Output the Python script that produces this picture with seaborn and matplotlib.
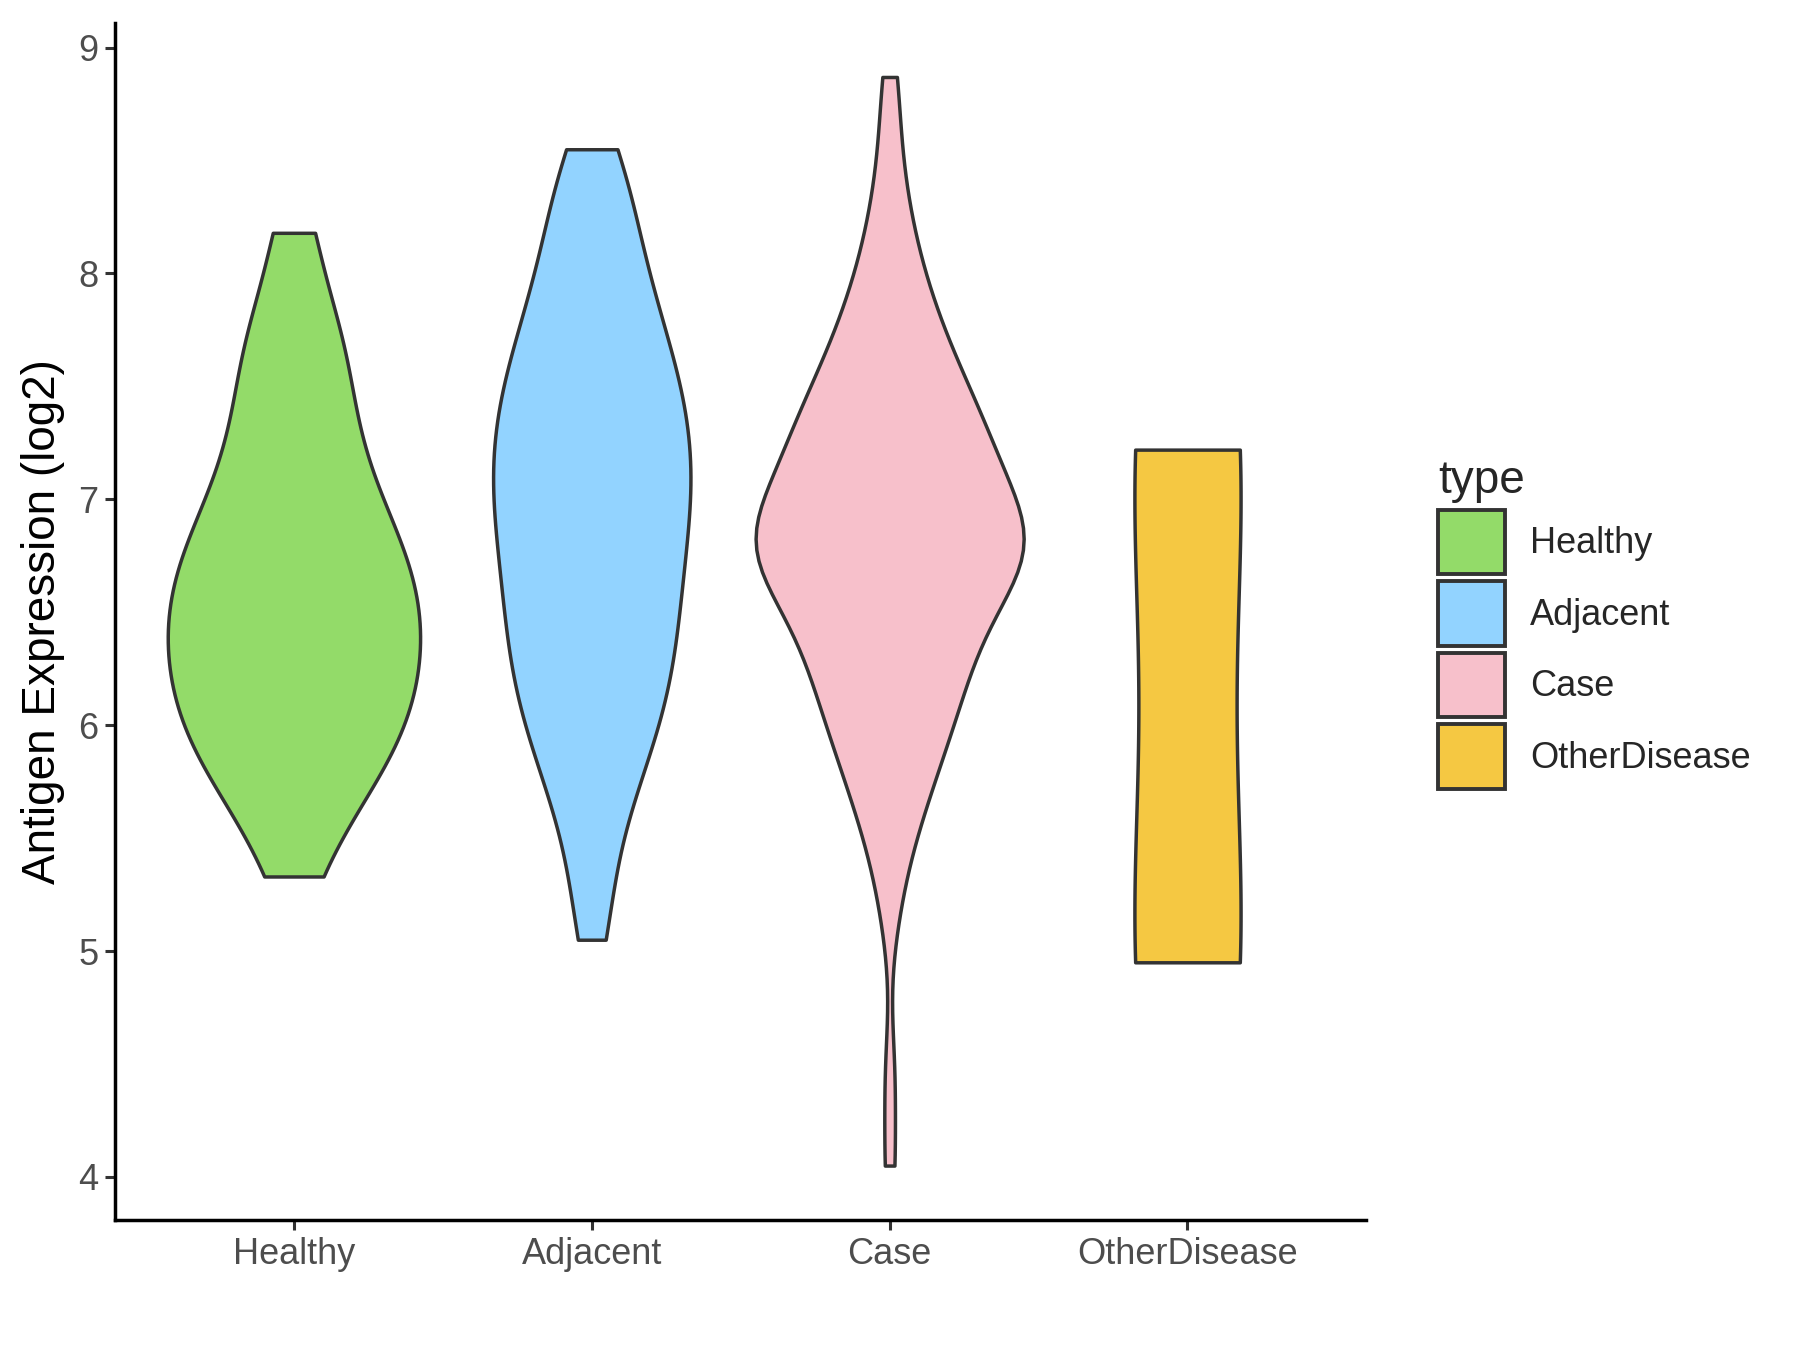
import numpy as np
import pandas as pd
import matplotlib
matplotlib.use("Agg")
import matplotlib.pyplot as plt
from matplotlib.patches import Patch
import seaborn as sns

# groups and fill colours
GROUPS = ["Healthy", "Adjacent", "Case", "OtherDisease"]
COLORS = ["#93DB69", "#92D3FF", "#F7C0CB", "#F5C842"]

# antigen expression (log2) per sample
healthy = [5.33, 5.58, 5.69, 5.78, 5.87, 5.94, 6.01, 6.07, 6.13, 6.20,
           6.26, 6.32, 6.38, 6.44, 6.50, 6.56, 6.62, 6.68, 6.75, 6.82,
           6.89, 6.97, 7.07, 7.18, 7.30, 7.43, 7.57, 7.71, 7.86, 8.18]

adjacent = [5.05, 5.23, 5.43, 5.57, 5.67, 5.76, 5.83, 5.90, 5.96, 6.01,
            6.07, 6.11, 6.16, 6.21, 6.26, 6.30, 6.35, 6.39, 6.44, 6.48,
            6.52, 6.57, 6.61, 6.65, 6.69, 6.74, 6.78, 6.82, 6.86, 6.90,
            6.94, 6.97, 7.01, 7.05, 7.09, 7.12, 7.16, 7.20, 7.23, 7.27,
            7.31, 7.35, 7.39, 7.43, 7.47, 7.51, 7.55, 7.59, 7.64, 7.69,
            7.74, 7.79, 7.85, 7.91, 7.97, 8.04, 8.12, 8.20, 8.28, 8.38,
            8.50, 8.55]

case = [4.05, 4.45, 5.15, 5.35, 5.46, 5.55, 5.62, 5.68, 5.73, 5.78,
        5.83, 5.87, 5.91, 5.95, 5.98, 6.02, 6.05, 6.08, 6.11, 6.14,
        6.17, 6.20, 6.23, 6.26, 6.28, 6.31, 6.34, 6.36, 6.39, 6.41,
        6.44, 6.46, 6.48, 6.50, 6.53, 6.55, 6.57, 6.59, 6.60, 6.62,
        6.64, 6.66, 6.68, 6.70, 6.72, 6.73, 6.75, 6.76, 6.77, 6.79,
        6.79, 6.80, 6.81, 6.82, 6.84, 6.84, 6.86, 6.87, 6.89, 6.91,
        6.93, 6.94, 6.96, 6.98, 7.00, 7.02, 7.04, 7.06, 7.08, 7.10,
        7.11, 7.13, 7.15, 7.17, 7.20, 7.22, 7.24, 7.26, 7.28, 7.30,
        7.32, 7.34, 7.37, 7.39, 7.42, 7.44, 7.47, 7.49, 7.52, 7.55,
        7.58, 7.62, 7.65, 7.69, 7.73, 7.77, 7.81, 7.86, 7.91, 7.97,
        8.04, 8.11, 8.20, 8.31, 8.44, 8.65, 8.87]

other_disease = [4.95, 7.22]

df = pd.concat([
    pd.DataFrame({"type": name, "expr": vals})
    for name, vals in zip(GROUPS, [healthy, adjacent, case, other_disease])
], ignore_index=True)

sns.set_theme(style="ticks")
plt.rcParams["font.family"] = ["Liberation Sans", "DejaVu Sans"]

fig = plt.figure(figsize=(18, 13.5), dpi=100)
ax = fig.add_axes([0.064, 0.0963, 0.695, 0.887])

sns.violinplot(
    data=df, x="type", y="expr", hue="type",
    order=GROUPS, hue_order=GROUPS,
    palette=dict(zip(GROUPS, COLORS)), saturation=1,
    density_norm="area", common_norm=True, cut=0, inner=None,
    width=0.9, linewidth=2.5, linecolor="#333333",
    bw_method="silverman", bw_adjust=0.65,
    legend=False, ax=ax,
)

ax.set_xlim(-0.6, 3.6)
ax.set_ylim(3.809, 9.111)
ax.set_yticks([4, 5, 6, 7, 8, 9])
ax.set_xlabel("")
ax.set_ylabel("Antigen Expression (log2)", fontsize=33, color="black", labelpad=10)

for side in ("top", "right"):
    ax.spines[side].set_visible(False)
for side in ("left", "bottom"):
    ax.spines[side].set_linewidth(2.5)
    ax.spines[side].set_color("black")
ax.tick_params(axis="both", length=7, width=2.2, color="#333333",
               labelsize=26, labelcolor="#4D4D4D", pad=5)

# legend on the right, ggplot-like keys
handles = [Patch(facecolor=c, edgecolor="#333333", linewidth=2.8) for c in COLORS]
fig.legend(
    handles, GROUPS, title="type", loc="center left",
    bbox_to_anchor=(0.789, 0.538), frameon=False,
    fontsize=26, title_fontsize=33, handlelength=1.84, handleheight=2.36,
    labelspacing=0.2, handletextpad=0.7, borderpad=0, alignment="left",
)

fig.savefig("out.png", dpi=100)
plt.close(fig)
